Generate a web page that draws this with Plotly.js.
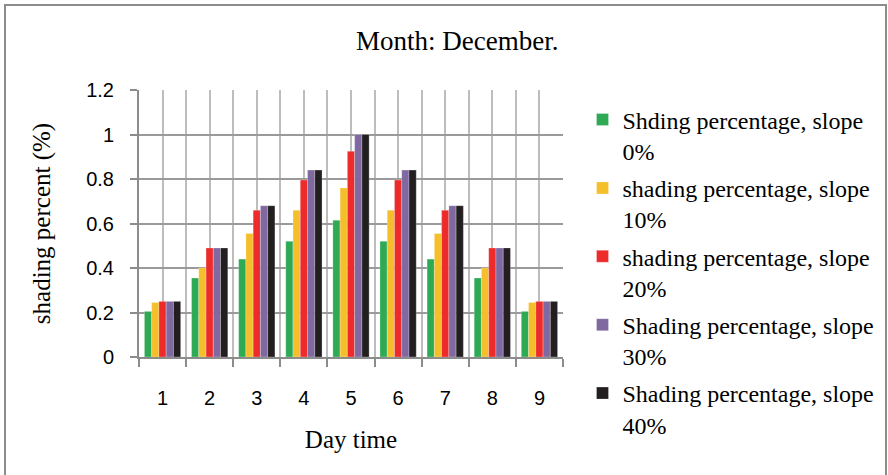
<!DOCTYPE html>
<html>
<head>
<meta charset="utf-8">
<script src="https://cdn.plot.ly/plotly-3.0.1.min.js"></script>
<style>
  html, body { margin: 0; padding: 0; background: #fff; }
  #wrap { position: relative; width: 888px; height: 475px; overflow: hidden; }
  #chart { position: absolute; left: 0; top: 0; width: 888px; height: 475px; }
  #frame { position: absolute; left: 4px; top: 4px; width: 879px; height: 480px; border: 2px solid #8c8c8c; pointer-events: none; }
</style>
</head>
<body>
<div id="wrap">
  <div id="chart"></div>
  <div id="frame"></div>
</div>
<script>
const dayTime = [1, 2, 3, 4, 5, 6, 7, 8, 9];
const slope0  = [0.205, 0.355, 0.44, 0.52, 0.615, 0.52, 0.44, 0.355, 0.205];
const slope10 = [0.245, 0.40, 0.555, 0.66, 0.76, 0.66, 0.555, 0.40, 0.245];
const slope20 = [0.25, 0.49, 0.66, 0.795, 0.925, 0.795, 0.66, 0.49, 0.25];
const slope30 = [0.25, 0.49, 0.68, 0.84, 1.0, 0.84, 0.68, 0.49, 0.25];
const slope40 = [0.25, 0.49, 0.68, 0.84, 1.0, 0.84, 0.68, 0.49, 0.25];
const seriesNames = [
  "Shding percentage, slope<br>0%",
  "shading percentage, slope<br>10%",
  "shading percentage, slope<br>20%",
  "Shading percentage, slope<br>30%",
  "Shading percentage, slope<br>40%"
];
const seriesColors = ["#2eaa55", "#f5be2b", "#ee2b2b", "#7f69a0", "#231f20"];
const seriesValues = [slope0, slope10, slope20, slope30, slope40];
const boundaries = [0.5, 1.5, 2.5, 3.5, 4.5, 5.5, 6.5, 7.5, 8.5, 9.5];
const yTicks = [0, 0.2, 0.4, 0.6, 0.8, 1, 1.2];
const yTickText = ['0', '0.2', '0.4', '0.6', '0.8', '1', '1.2'];

const traces = seriesValues.map((v, i) => ({
  type: 'bar',
  x: dayTime,
  y: v,
  name: seriesNames[i],
  legendgroup: 'g' + i,
  marker: { color: seriesColors[i], line: { width: 0.5, color: 'rgba(255,255,255,0.5)' } }
}));

const serif = "'Liberation Serif', 'Times New Roman', serif";
const sans = "'Liberation Sans', Arial, sans-serif";

const layout = {
  width: 888, height: 475,
  margin: { l: 139, r: 325, t: 90, b: 118, autoexpand: false },
  paper_bgcolor: '#fff', plot_bgcolor: '#fff',
  barmode: 'group', bargap: 0.23, bargroupgap: 0,
  title: { text: 'Month: December.', font: { family: serif, size: 27, color: '#000' },
           x: 0.515, xref: 'container', xanchor: 'center', y: 0.914, yref: 'container', yanchor: 'middle' },
  xaxis: {
    range: [0.5, 9.5], tickvals: dayTime, ticktext: dayTime.map(String),
    ticks: '', ticklabelstandoff: 22,
    tickfont: { family: sans, size: 20, color: '#000' },
    showgrid: true, gridcolor: '#bdbdbd', gridwidth: 2,
    minor: { tickvals: boundaries, ticks: 'outside', ticklen: 8, tickcolor: '#8c8c8c', tickwidth: 2,
             showgrid: true, gridcolor: '#bdbdbd', gridwidth: 2 },
    showline: true, linecolor: '#8c8c8c', linewidth: 2,
    zeroline: false,
    title: { text: 'Day time', font: { family: serif, size: 25, color: '#000' }, standoff: 22 }
  },
  yaxis: {
    range: [0, 1.2],
    tickvals: yTicks, ticktext: yTickText,
    ticks: 'outside', ticklen: 7, tickcolor: '#8c8c8c', tickwidth: 2, ticklabelstandoff: 12,
    tickfont: { family: sans, size: 20, color: '#000' },
    showgrid: true, gridcolor: '#9a9a9a', gridwidth: 2,
    showline: true, linecolor: '#8c8c8c', linewidth: 2,
    zeroline: false,
    title: { text: 'shading percent (%)', font: { family: serif, size: 25, color: '#000' }, standoff: 28 }
  },
  legend: {
    x: 1.046, xanchor: 'left', y: 0.795, yref: 'container', yanchor: 'top',
    font: { family: serif, size: 24, color: '#000' },
    valign: 'top', tracegroupgap: 3, itemwidth: 30, maxheight: 460,
    bgcolor: 'rgba(0,0,0,0)'
  },
  showlegend: true
};

Plotly.newPlot('chart', traces, layout, { displayModeBar: false, staticPlot: true });
</script>
</body>
</html>
